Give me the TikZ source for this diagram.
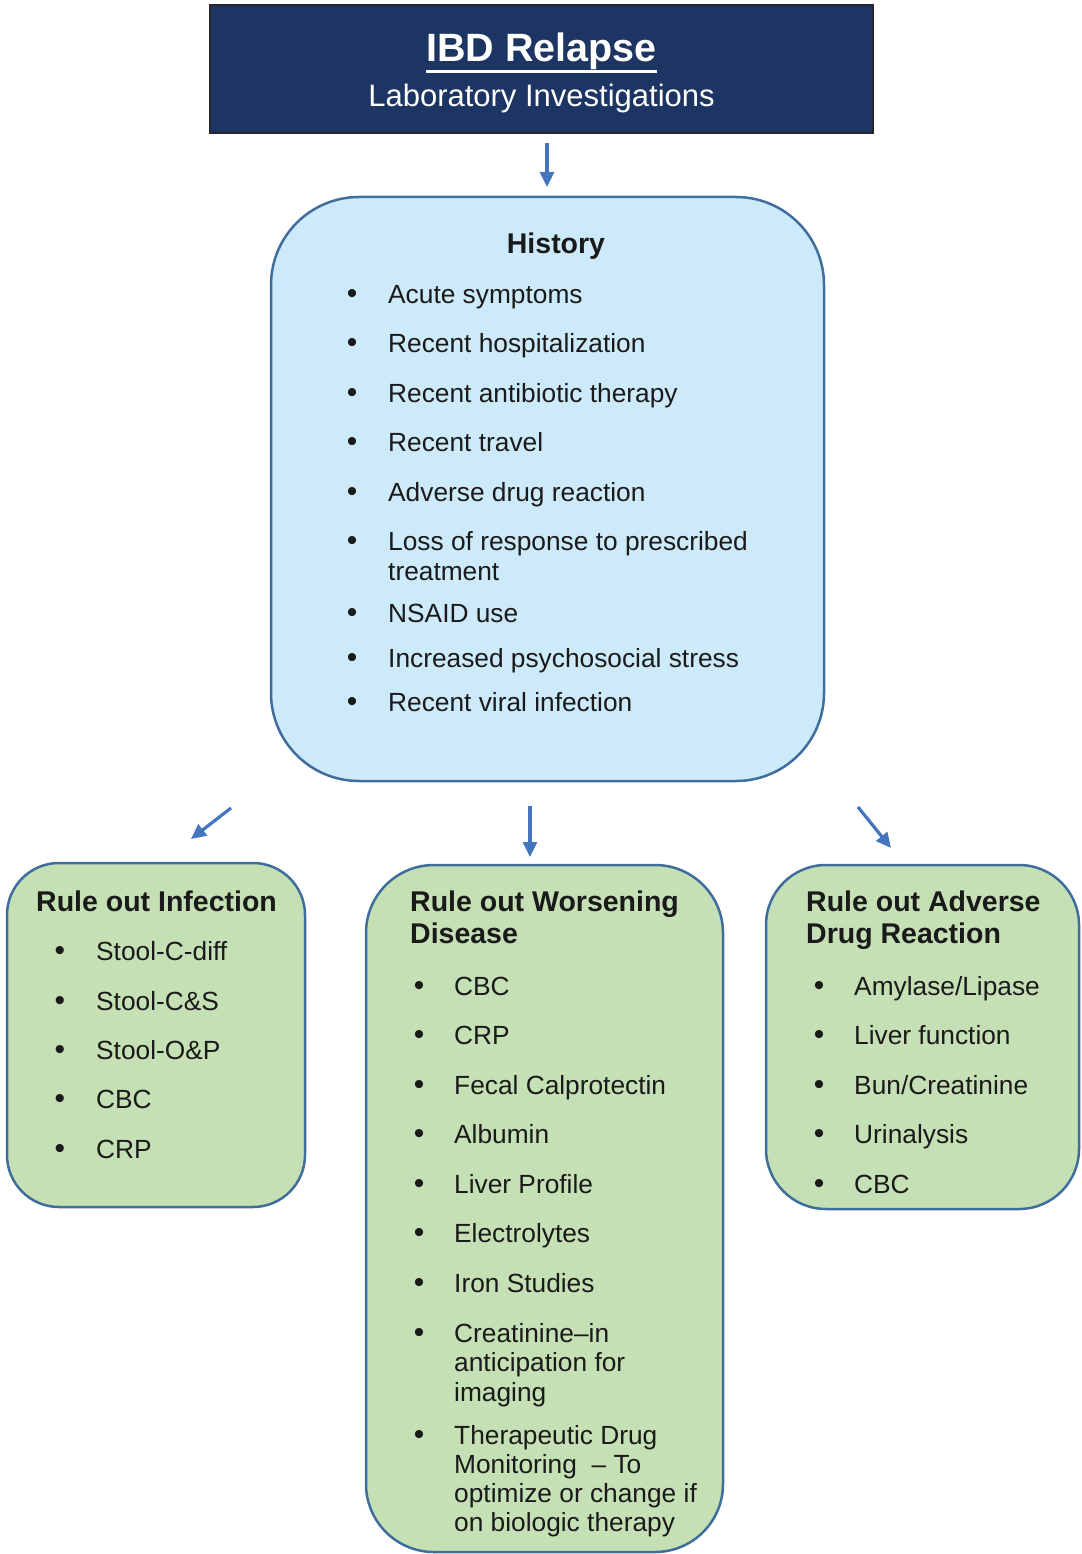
\documentclass[tikz,border=0pt]{standalone}
\usepackage{fontspec}
\setmainfont{Liberation Sans}
\usepackage{xcolor}
\definecolor{ibdnavy}{RGB}{29,53,98}
\definecolor{ibdframe}{RGB}{38,38,48}
\definecolor{ibdarrow}{RGB}{68,118,190}
\definecolor{ibdedge}{RGB}{64,110,156}
\definecolor{ibdsky}{RGB}{205,234,250}
\definecolor{ibdgreen}{RGB}{197,224,180}
\definecolor{ibdtext}{RGB}{26,26,26}
\usetikzlibrary{arrows.meta, positioning}

\tikzset{
  flowarrow/.style={draw=ibdarrow, line width=3.2pt, -{Triangle[length=15pt,width=14pt]}},
  panel/.style={draw=ibdedge, line width=2.5pt, inner sep=0pt},
  itemtext/.style={anchor=base west, inner sep=0pt, font=\fontsize{26.3}{30}\selectfont, text=ibdtext},
  bulletdot/.style={anchor=base, inner sep=0pt, font=\fontsize{30}{30}\selectfont, text=ibdtext},
  headtext/.style={anchor=base west, inner sep=0pt, font=\fontsize{28.5}{32}\selectfont\bfseries, text=ibdtext},
}

\begin{document}
\begin{tikzpicture}[x=1pt, y=-1pt]
\useasboundingbox (0,0) rectangle (1081,1554);

% --- Title ---
\node[draw=ibdframe, fill=ibdnavy, line width=2pt, minimum width=663pt, minimum height=128pt] (title) at (541.5,69) {};
\node[anchor=base, inner sep=0pt, text=white, font=\fontsize{39.5}{42}\selectfont\bfseries] (title-main) at (541.5,62) {IBD Relapse};
\draw[white, line width=3pt] ([yshift=-10pt]title-main.base west) -- ([yshift=-10pt]title-main.base east);
\node[anchor=base, inner sep=0pt, text=white, font=\fontsize{31}{33}\selectfont] (title-sub) at (541.5,107) {Laboratory Investigations};

% --- History ---
\node[panel, fill=ibdsky, rounded corners=88pt, minimum width=553pt, minimum height=584pt] (history) at (547.5,489) {};
\node[headtext, anchor=base] (history-head) at (556,254) {History};
\foreach \y [count=\i] in {303,352,402,451,501,550,622,667,711}
  \node[bulletdot] (history-dot-\i) at (352,\y) {\textbullet};
\foreach \y/\txt [count=\i] in {303/Acute symptoms, 352/Recent hospitalization, 402/Recent antibiotic therapy,
    451/Recent travel, 501/Adverse drug reaction, 550/Loss of response to prescribed, 580/treatment,
    622/NSAID use, 667/Increased psychosocial stress, 711/Recent viral infection}
  \node[itemtext] (history-item-\i) at (388,\y) {\txt};

% --- Rule out Infection ---
\node[panel, fill=ibdgreen, rounded corners=52pt, minimum width=298pt, minimum height=344pt] (infection) at (156,1035) {};
\node[headtext] (infection-head) at (36,911) {Rule out Infection};
\foreach \y [count=\i] in {960,1010,1059,1108,1158}
  \node[bulletdot] (infection-dot-\i) at (60,\y) {\textbullet};
\foreach \y/\txt [count=\i] in {960/Stool-C-diff, 1010/Stool-C\&S, 1059/Stool-O\&P, 1108/CBC, 1158/CRP}
  \node[itemtext] (infection-item-\i) at (96,\y) {\txt};

% --- Rule out Worsening Disease ---
\node[panel, fill=ibdgreen, rounded corners=68pt, minimum width=357pt, minimum height=687pt] (worsening) at (544.5,1208.5) {};
\node[headtext] (worsening-head-1) at (410,911) {Rule out Worsening};
\node[headtext] (worsening-head-2) at (410,943) {Disease};
\foreach \y [count=\i] in {995,1044,1094,1143,1193,1242,1292,1342,1444}
  \node[bulletdot] (worsening-dot-\i) at (419,\y) {\textbullet};
\foreach \y/\txt [count=\i] in {995/CBC, 1044/CRP, 1094/Fecal Calprotectin, 1143/Albumin, 1193/Liver Profile,
    1242/Electrolytes, 1292/Iron Studies, 1342/Creatinine--in, 1371/anticipation for, 1401/imaging,
    1444/Therapeutic Drug, 1473/Monitoring~ -- To, 1502/optimize or change if, 1531/on biologic therapy}
  \node[itemtext] (worsening-item-\i) at (454,\y) {\txt};

% --- Rule out Adverse Drug Reaction ---
\node[panel, fill=ibdgreen, rounded corners=60pt, minimum width=313pt, minimum height=344pt] (adverse) at (922.5,1037) {};
\node[headtext] (adverse-head-1) at (806,911) {Rule out Adverse};
\node[headtext] (adverse-head-2) at (806,943) {Drug Reaction};
\foreach \y [count=\i] in {995,1044,1094,1143,1193}
  \node[bulletdot] (adverse-dot-\i) at (819,\y) {\textbullet};
\foreach \y/\txt [count=\i] in {995/{Amylase/Lipase}, 1044/Liver function, 1094/{Bun/Creatinine}, 1143/Urinalysis, 1193/CBC}
  \node[itemtext] (adverse-item-\i) at (854,\y) {\txt};

% arrows
\coordinate (arr-top-a) at (547,143);
\coordinate (arr-top-b) at (547,187);
\coordinate (arr-left-a) at (231,808);
\coordinate (arr-left-b) at (191,839);
\coordinate (arr-mid-a) at (530,806);
\coordinate (arr-mid-b) at (530,857);
\coordinate (arr-right-a) at (858,807);
\coordinate (arr-right-b) at (891,848);
\draw[flowarrow] (arr-top-a) -- (arr-top-b);
\draw[flowarrow] (arr-left-a) -- (arr-left-b);
\draw[flowarrow] (arr-mid-a) -- (arr-mid-b);
\draw[flowarrow] (arr-right-a) -- (arr-right-b);

\end{tikzpicture}
\end{document}
